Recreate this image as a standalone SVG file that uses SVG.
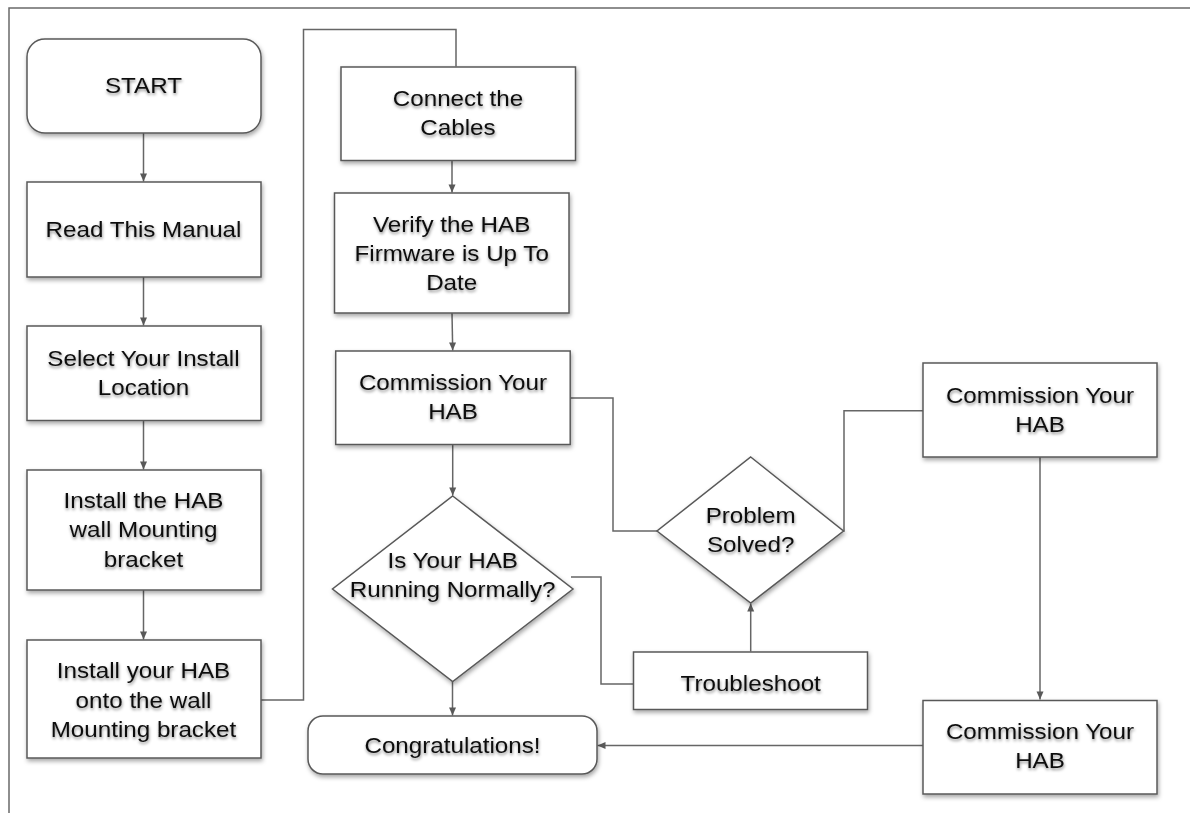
<svg xmlns="http://www.w3.org/2000/svg" width="1190" height="813" viewBox="0 0 1190 813">
<defs>
<filter id="sh" x="-10%" y="-10%" width="125%" height="130%">
<feDropShadow dx="1" dy="2.5" stdDeviation="2" flood-color="#000" flood-opacity="0.35"/>
</filter>
<filter id="tsh" x="-10%" y="-30%" width="120%" height="170%">
<feDropShadow dx="0.5" dy="2" stdDeviation="1.6" flood-color="#000" flood-opacity="0.45"/>
</filter>
<marker id="arr" markerWidth="10" markerHeight="10" refX="9" refY="5" orient="auto" markerUnits="userSpaceOnUse">
<path d="M1,1.5 L9,5 L1,8.5 Z" fill="#595959"/>
</marker>
</defs>
<style>
.box { fill: #fff; stroke: #595959; stroke-width: 1.5; filter: url(#sh); }
.t { font-family: "Liberation Sans", Arial, sans-serif; font-size: 22px; fill: #111; text-anchor: middle; filter: url(#tsh); transform-box: fill-box; transform-origin: center; transform: scaleX(1.1); }
.c { fill: none; stroke: #666; stroke-width: 1.5; }
.a { marker-end: url(#arr); }
.frame { fill: none; stroke: #6a6a6a; stroke-width: 1.5; }
</style>
<rect width="1190" height="813" fill="#fff"/>
<path class="frame" d="M9,813 L9,8 L1190,8"/>

<g id="connectors">
<path class="c a" d="M143.5,132.5 L143.5,181.5"/>
<path class="c a" d="M143.5,277 L143.5,325.5"/>
<path class="c a" d="M143.5,420.5 L143.5,469.5"/>
<path class="c a" d="M143.5,590 L143.5,639.5"/>
<path class="c" d="M260.5,700 L303.5,700 L303.5,29.5 L456,29.5 L456,66.5"/>
<path class="c a" d="M452,160.5 L452,192.5"/>
<path class="c a" d="M452,313 L452.7,350.5"/>
<path class="c a" d="M452.7,444.5 L452.7,495.5"/>
<path class="c a" d="M452.5,681 L452.5,715.5"/>
<path class="c" d="M570.5,398 L613,398 L613,531 L657,531"/>
<path class="c" d="M571,577 L601,577 L601,684 L633.5,684"/>
<path class="c a" d="M750.7,651.5 L750.7,603.5"/>
<path class="c" d="M843,531 L844,531 L844,410.7 L923,410.7"/>
<path class="c a" d="M1040,457 L1040,699.5"/>
<path class="c a" d="M923,745.5 L597.5,745.5"/>
</g>

<g id="start">
<rect class="box" x="27" y="39" width="234" height="94" rx="18"/>
<text class="t" x="143.5" y="93.5">START</text>
</g>
<g id="read-manual">
<rect class="box" x="27" y="182" width="234" height="95"/>
<text class="t" x="143.5" y="237">Read This Manual</text>
</g>
<g id="select-location">
<rect class="box" x="27" y="326" width="234" height="94.5"/>
<text class="t" x="143.5" y="366">Select Your Install</text>
<text class="t" x="143.5" y="395">Location</text>
</g>
<g id="install-bracket">
<rect class="box" x="27" y="470" width="234" height="120"/>
<text class="t" x="143.5" y="508">Install the HAB</text>
<text class="t" x="143.5" y="537.5">wall Mounting</text>
<text class="t" x="143.5" y="567">bracket</text>
</g>
<g id="install-hab">
<rect class="box" x="27" y="640" width="234" height="118"/>
<text class="t" x="143.5" y="678">Install your HAB</text>
<text class="t" x="143.5" y="708">onto the wall</text>
<text class="t" x="143.5" y="737">Mounting bracket</text>
</g>
<g id="connect-cables">
<rect class="box" x="341" y="67" width="234.5" height="93.5"/>
<text class="t" x="458" y="106">Connect the</text>
<text class="t" x="458" y="135">Cables</text>
</g>
<g id="verify-firmware">
<rect class="box" x="334.5" y="193" width="234.5" height="120"/>
<text class="t" x="451.7" y="231.7">Verify the HAB</text>
<text class="t" x="451.7" y="261.5">Firmware is Up To</text>
<text class="t" x="451.7" y="290.5">Date</text>
</g>
<g id="commission-1">
<rect class="box" x="335.7" y="351" width="234.5" height="93.5"/>
<text class="t" x="453" y="390">Commission Your</text>
<text class="t" x="453" y="419">HAB</text>
</g>
<g id="running-normally">
<path class="box" d="M452.7,496 L573,589 L452.7,681.5 L332.5,589 Z"/>
<text class="t" x="452.7" y="568">Is Your HAB</text>
<text class="t" x="452.7" y="597">Running Normally?</text>
</g>
<g id="problem-solved">
<path class="box" d="M750.7,457 L843.5,531 L750.7,603 L657,531 Z"/>
<text class="t" x="750.7" y="523">Problem</text>
<text class="t" x="750.7" y="552">Solved?</text>
</g>
<g id="troubleshoot">
<rect class="box" x="633.5" y="652" width="234" height="57.5"/>
<text class="t" x="750.7" y="691">Troubleshoot</text>
</g>
<g id="commission-2">
<rect class="box" x="923" y="363" width="234" height="94"/>
<text class="t" x="1040" y="403">Commission Your</text>
<text class="t" x="1040" y="432.5">HAB</text>
</g>
<g id="commission-3">
<rect class="box" x="923" y="700.5" width="234" height="93.5"/>
<text class="t" x="1040" y="739">Commission Your</text>
<text class="t" x="1040" y="768">HAB</text>
</g>
<g id="congratulations">
<rect class="box" x="308" y="716" width="289" height="58" rx="15"/>
<text class="t" x="452.5" y="753">Congratulations!</text>
</g>
</svg>
